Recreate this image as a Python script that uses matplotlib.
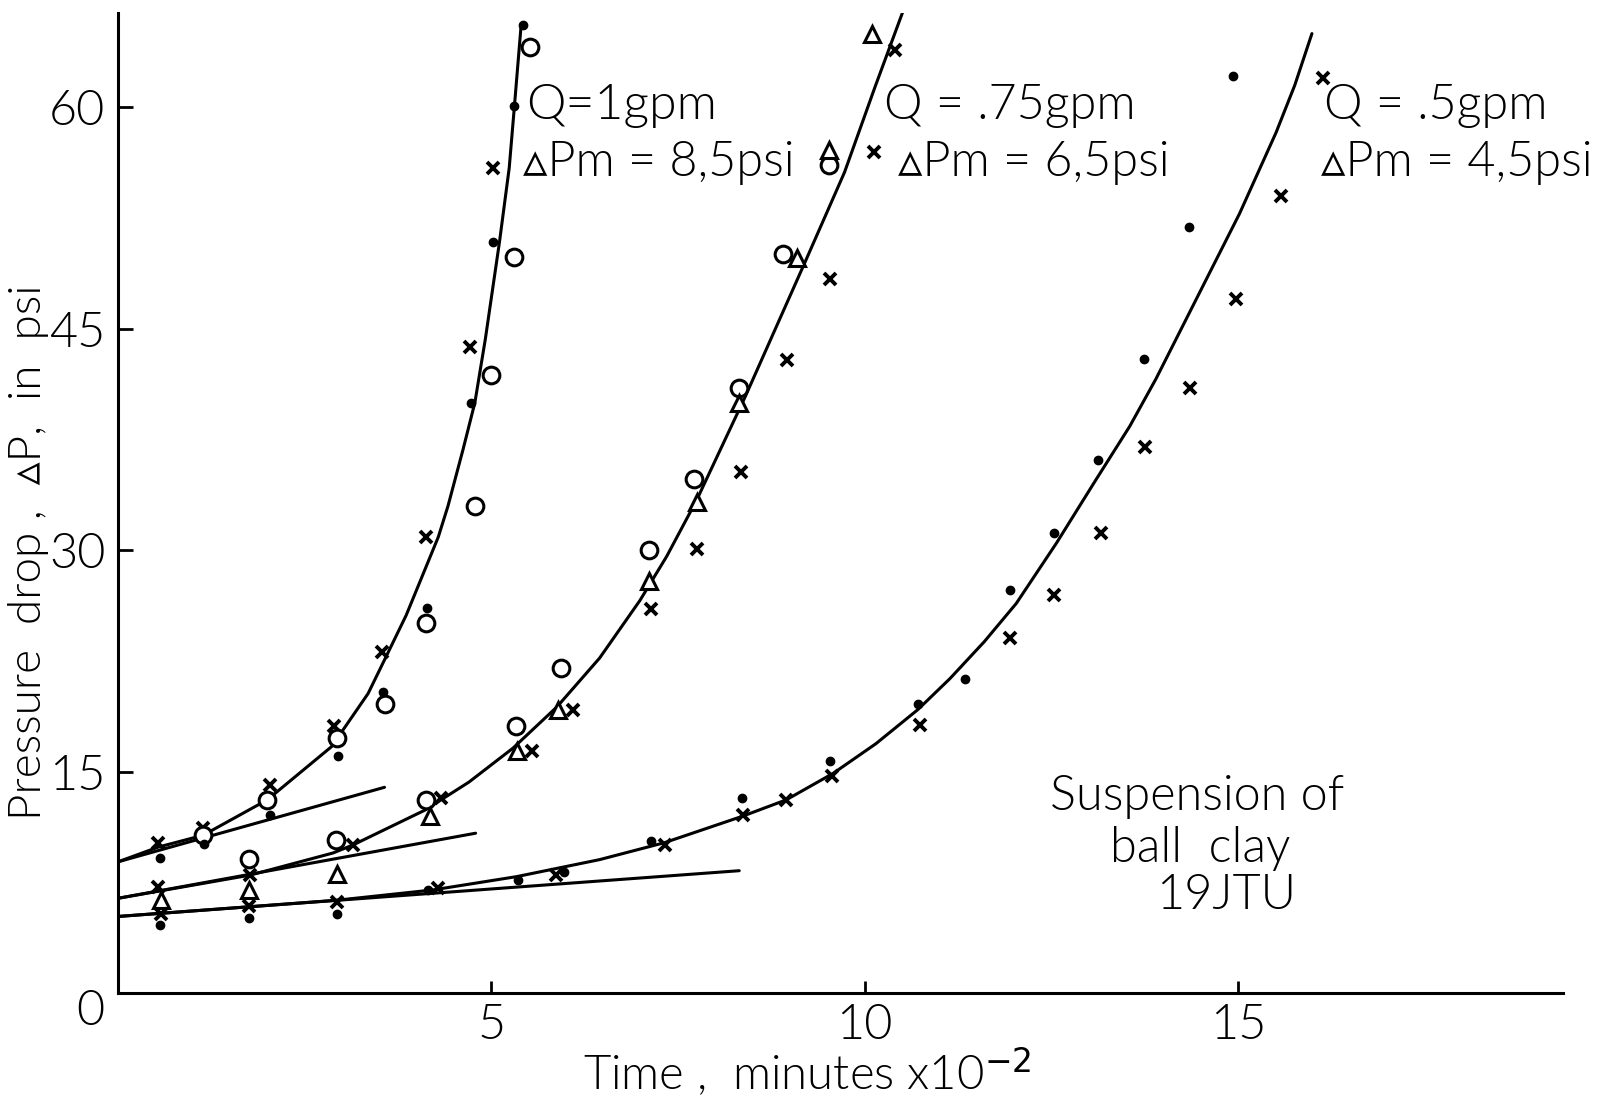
import matplotlib
matplotlib.use("Agg")
import matplotlib.pyplot as plt

FAMILY = ['Lato', 'DejaVu Sans']
plt.rcParams['font.family'] = FAMILY
plt.rcParams['font.weight'] = 300
plt.rcParams['mathtext.fontset'] = 'dejavusans'

# Q = 1 gpm
q1_cross_x = [0.54, 1.14, 2.03, 2.90, 3.53, 4.12, 4.71, 5.02]
q1_cross_y = [10.2, 11.2, 14.1, 18.1, 23.1, 30.9, 43.8, 55.9]
q1_circ_x = [1.14, 2.00, 2.93, 3.57, 4.12, 4.78, 5.00, 5.31, 5.52]
q1_circ_y = [10.7, 13.1, 17.3, 19.6, 25.1, 33.0, 41.9, 49.9, 64.1]
q1_dot_x = [0.56, 1.15, 2.03, 2.95, 3.55, 4.14, 4.73, 5.02, 5.31, 5.43]
q1_dot_y = [9.15, 10.1, 12.1, 16.1, 20.4, 26.1, 40.0, 50.9, 60.1, 65.6]
q1_curve_x = [0, 0.54, 1.14, 2.0, 2.86, 3.35, 3.62, 3.86, 4.29, 4.42, 4.62, 4.78,
              4.92, 5.11, 5.24, 5.31, 5.40]
q1_curve_y = [8.9, 9.9, 10.7, 13.1, 16.7, 20.3, 23.1, 25.6, 30.9, 33.0, 36.8, 40.0,
              44.3, 50.9, 55.9, 60.1, 65.6]
q1_tan_x = [0, 3.57]
q1_tan_y = [8.9, 13.95]

# Q = .75 gpm
q2_cross_x = [0.54, 1.77, 3.15, 4.33, 5.54, 6.10, 7.14, 7.75, 8.34, 8.96, 9.53, 10.12, 10.40]
q2_cross_y = [7.2, 8.0, 10.05, 13.2, 16.4, 19.2, 26.0, 30.1, 35.3, 42.9, 48.4, 57.0, 63.9]
q2_circ_x = [1.76, 2.92, 4.12, 5.33, 5.93, 7.11, 7.71, 8.32, 8.90, 9.52]
q2_circ_y = [9.1, 10.4, 13.1, 18.1, 22.0, 30.0, 34.8, 41.0, 50.1, 56.1]
q2_tri_x = [0.58, 1.76, 2.94, 4.18, 5.34, 5.89, 7.11, 7.75, 8.32, 9.09, 9.52, 10.10]
q2_tri_y = [6.3, 7.0, 8.1, 12.0, 16.4, 19.2, 27.9, 33.3, 40.0, 49.8, 57.1, 65.0]
q2_curve_x = [0, 1.77, 2.88, 3.15, 4.11, 4.7, 5.29, 5.88, 6.45, 6.99, 7.35, 7.75,
              8.4, 9.2, 9.73, 10.14, 10.52]
q2_curve_y = [6.43, 8.0, 9.5, 10.05, 12.4, 14.3, 16.6, 19.4, 22.7, 26.6, 29.6, 33.4,
              40.4, 49.5, 55.6, 61.4, 66.6]
q2_tan_x = [0, 4.79]
q2_tan_y = [6.43, 10.84]

# Q = .5 gpm
q3_cross_x = [0.58, 1.76, 2.93, 4.29, 5.87, 7.32, 8.37, 8.95, 9.56, 10.74, 11.95, 12.53,
              13.16, 13.76, 14.36, 14.97, 15.57, 16.14]
q3_cross_y = [5.4, 5.9, 6.2, 7.1, 8.0, 10.05, 12.1, 13.1, 14.7, 18.2, 24.05, 27.0,
              31.2, 37.0, 41.0, 47.0, 54.0, 62.0]
q3_dot_x = [0.56, 1.76, 2.93, 4.15, 5.36, 5.98, 7.14, 8.36, 9.54, 10.71, 11.35, 11.94,
            12.53, 13.12, 13.74, 14.34, 14.93]
q3_dot_y = [4.6, 5.1, 5.4, 7.0, 7.7, 8.2, 10.3, 13.2, 15.7, 19.6, 21.3, 27.3,
            31.2, 36.1, 42.95, 51.9, 62.1]
q3_curve_x = [0, 2.93, 4.22, 5.34, 6.45, 7.32, 8.37, 8.95, 9.58, 10.15, 10.71, 11.14,
              11.6, 12.03, 12.57, 13.1, 13.55, 13.9, 14.48, 15.02, 15.51, 15.76, 15.99]
q3_curve_y = [5.2, 6.3, 7.0, 7.9, 9.05, 10.2, 12.0, 13.1, 14.9, 16.9, 19.2, 21.3,
              23.8, 26.4, 30.5, 34.8, 38.4, 41.6, 47.4, 52.8, 58.3, 61.5, 65.0]
q3_tan_x = [0, 8.32]
q3_tan_y = [5.2, 8.3]

x_ticks = [0, 5, 10, 15]
x_tick_labels = ['', '5', '10', '15']
y_ticks = [0, 15, 30, 45, 60]
y_tick_labels = ['', '15', '30', '45', '60']

fig = plt.figure(figsize=(16.09, 11.03), dpi=100)
ax = fig.add_axes([0.0733, 0.0995, 0.898, 0.8888])

lw = 2.2
for cx, cy in [(q1_curve_x, q1_curve_y), (q1_tan_x, q1_tan_y),
               (q2_curve_x, q2_curve_y), (q2_tan_x, q2_tan_y),
               (q3_curve_x, q3_curve_y), (q3_tan_x, q3_tan_y)]:
    ax.plot(cx, cy, '-', color='black', lw=lw, solid_capstyle='round',
            solid_joinstyle='round')

cross = dict(marker='x', ls='none', color='black', ms=9, mew=2.8)
circ = dict(marker='o', ls='none', mfc='white', mec='black', ms=12, mew=2.2)
dot = dict(marker='o', ls='none', color='black', ms=6)
tri = dict(marker='^', ls='none', mfc='white', mec='black', ms=12, mew=2.2)

ax.plot(q1_cross_x, q1_cross_y, **cross)
ax.plot(q1_circ_x, q1_circ_y, **circ)
ax.plot(q1_dot_x, q1_dot_y, **dot)
ax.plot(q2_cross_x, q2_cross_y, **cross)
ax.plot(q2_circ_x, q2_circ_y, **circ)
ax.plot(q2_tri_x, q2_tri_y, **tri)
ax.plot(q3_cross_x, q3_cross_y, **cross)
ax.plot(q3_dot_x, q3_dot_y, **dot)

ax.set_xlim(0, 19.35)
ax.set_ylim(0, 66.4)
ax.spines['top'].set_visible(False)
ax.spines['right'].set_visible(False)
for s in ['left', 'bottom']:
    ax.spines[s].set_linewidth(2.2)

txt = dict(family=FAMILY, weight=300, color='black')

ax.set_xticks(x_ticks)
ax.set_xticklabels(x_tick_labels, **txt)
ax.set_yticks(y_ticks)
ax.set_yticklabels(y_tick_labels, **txt)
ax.tick_params(axis='both', direction='in', width=2, labelsize=35)
ax.tick_params(axis='y', length=11, pad=9)
ax.tick_params(axis='x', length=9, pad=7)
ax.annotate('0', (0, 0), xytext=(-20, -13), textcoords='offset points',
            ha='center', va='center', fontsize=35, **txt)

ax.set_xlabel('Time ,  minutes x10$^{-2}$', fontsize=34, x=0.477, labelpad=-2, **txt)
ax.set_ylabel('Pressure  drop ,  \u25b5P,  in  psi', fontsize=33, y=0.45, labelpad=0, **txt)

tsize = 35
ax.text(5.46, 60.1, 'Q=1gpm', fontsize=tsize + 1, va='center', ha='left', **txt)
ax.text(5.42, 56.3, '\u25b5Pm = 8,5psi', fontsize=tsize, va='center', ha='left', **txt)
ax.text(10.26, 60.1, 'Q = .75gpm', fontsize=tsize, va='center', ha='left', **txt)
ax.text(10.44, 56.3, '\u25b5Pm = 6,5psi', fontsize=tsize, va='center', ha='left', **txt)
ax.text(16.15, 60.1, 'Q = .5gpm', fontsize=tsize, va='center', ha='left', **txt)
ax.text(16.11, 56.3, '\u25b5Pm = 4,5psi', fontsize=tsize, va='center', ha='left', **txt)

ssize = 35
ax.text(14.45, 13.3, 'Suspension of', fontsize=ssize, ha='center', va='center', **txt)
ax.text(14.5, 9.8, 'ball  clay', fontsize=ssize, ha='center', va='center', **txt)
ax.text(14.84, 6.6, '19JTU', fontsize=ssize, ha='center', va='center', **txt)

fig.savefig('out.png', dpi=100)
